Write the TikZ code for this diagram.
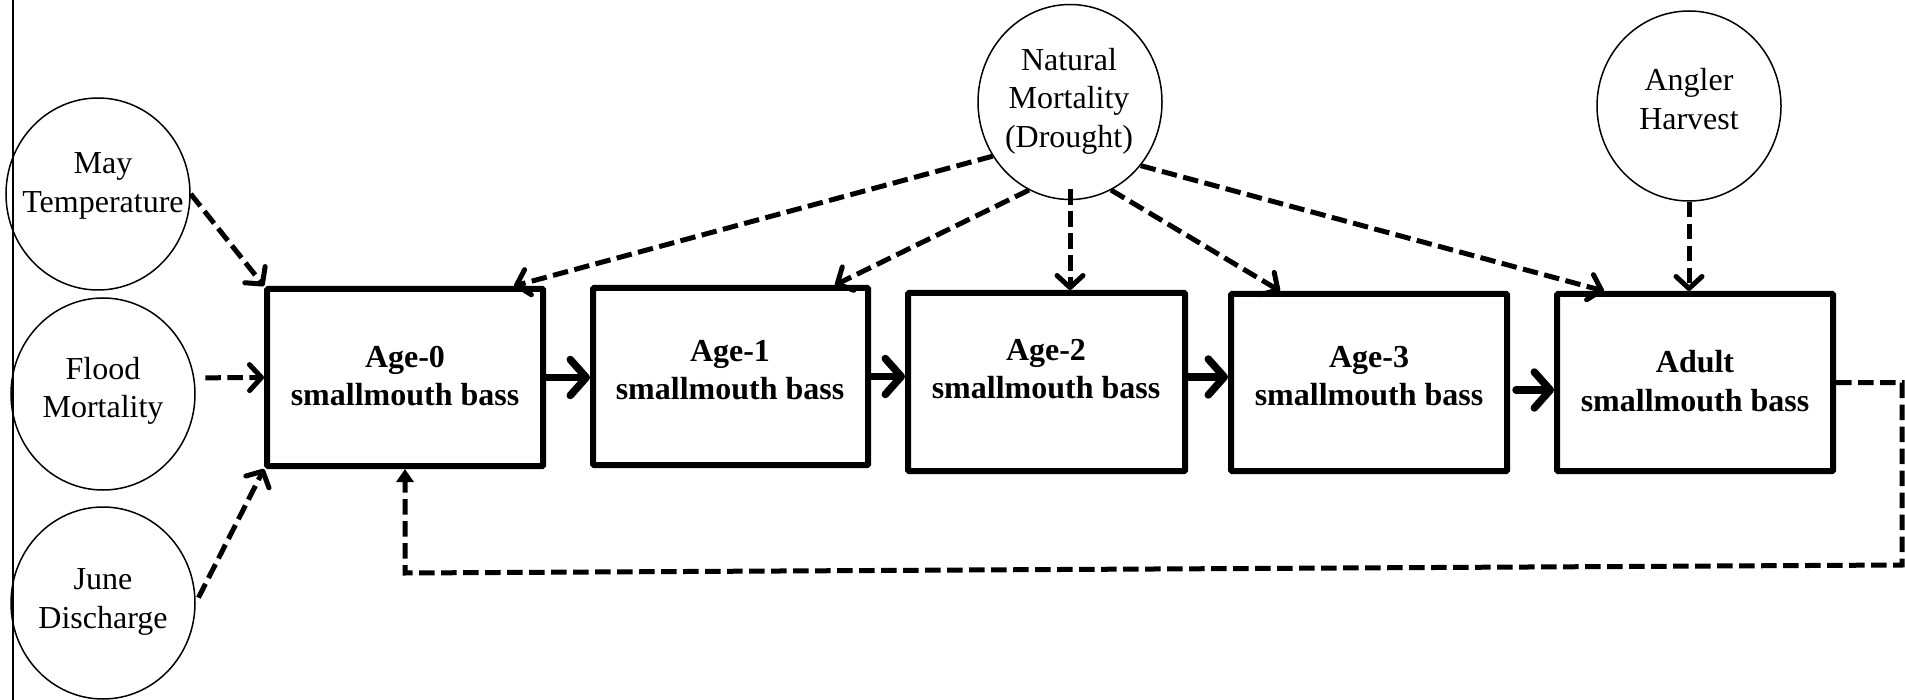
\documentclass[tikz,border=0pt]{standalone}
\usepackage{fontspec}
\setmainfont{Liberation Serif}
\usetikzlibrary{arrows.meta,shapes.geometric,calc}
\begin{document}
\begin{tikzpicture}[x=1pt,y=-1pt,
  oval/.style={draw, ellipse, line width=1.5pt, inner sep=0pt, minimum width=184pt, minimum height=192pt},
  lbl/.style={align=center, inner sep=0pt, font=\fontsize{32}{38.5}\selectfont},
  blbl/.style={align=center, inner sep=0pt, font=\fontsize{32}{38.5}\selectfont\bfseries},
  stagebox/.style={draw, rectangle, line width=6pt, inner sep=0pt, rounded corners=1pt, minimum width=276pt, minimum height=177pt},
  dasharrow/.style={line width=5pt, dash pattern=on 15.5pt off 6.5pt, -{Straight Barb[length=12pt,width=26pt,round]}},
  fbarrow/.style={line width=5pt, dash pattern=on 15.5pt off 6.5pt, -{Triangle[length=13pt,width=17pt]}},
  flow/.style={line width=7.5pt, line cap=round, -{Straight Barb[length=16pt,width=36pt,round]}},
]
\useasboundingbox (0,0) rectangle (1905,700);
\draw[line width=1.5pt] (13,0) -- (13,700);

% ovals
\node[oval] (may) at (98,194) {};
\node[lbl] (mayt) at (103,186) {May\\Temperature};
\node[oval] (flood) at (103,394) {};
\node[lbl] (floodt) at (103,391) {Flood\\Mortality};
\node[oval] (june) at (103,603) {};
\node[lbl] (junet) at (103,602) {June\\Discharge};
\node[oval, minimum height=195pt] (nm) at (1070,102) {};
\node[lbl] (nmt) at (1069,101) {Natural\\Mortality\\(Drought)};
\node[oval, minimum height=190pt] (ang) at (1689,106) {};
\node[lbl] (angt) at (1689,99) {Angler\\Harvest};

% boxes
\node[stagebox] (a0) at (405,377.5) {};
\node[blbl] (a0t) at (405,376) {Age-0\\smallmouth bass};
\node[stagebox, minimum width=275pt] (a1) at (730.5,376.5) {};
\node[blbl] (a1t) at (730,370) {Age-1\\smallmouth bass};
\node[stagebox, minimum width=277pt, minimum height=178pt] (a2) at (1046.5,382) {};
\node[blbl] (a2t) at (1046,369) {Age-2\\smallmouth bass};
\node[stagebox] (a3) at (1369,382.5) {};
\node[blbl] (a3t) at (1369,376) {Age-3\\smallmouth bass};
\node[stagebox] (ad) at (1695,382.5) {};
\node[blbl] (adt) at (1695,381) {Adult\\smallmouth bass};

% environmental inputs
\draw[dasharrow] (may.east) -- (a0.north west);
\draw[dasharrow, shorten <=11pt] (flood.10) -- (a0.west);
\draw[dasharrow, shorten <=6pt] (june.east) -- (a0.south west);

% natural mortality
\coordinate (nmb) at ($(nm.south)+(0,-11)$);
\coordinate (t0) at ($(a0.north east)+(-32,0)$);
\coordinate (t1) at ($(a1.north east)+(-36,0)$);
\coordinate (t3) at ($(a3.north west)+(52,0)$);
\coordinate (tad) at ($(ad.north west)+(50,0)$);
\draw[dasharrow] (nm.215) -- (t0);
\draw[dasharrow] (nm.245) -- (t1);
\draw[dasharrow] (nmb) -- (nmb |- a2.north);
\draw[dasharrow] (nm.295) -- (t3);
\draw[dasharrow] (nm.318) -- (tad);

% angler harvest
\draw[dasharrow] (ang.south) -- (ang.south |- ad.north);

% flow between stages
\coordinate (s2) at ($(a2.east)+(0,-5)$);
\coordinate (s3) at ($(a3.east)+(6,7.5)$);
\draw[flow] (a0.east) -- (a0.east -| a1.west);
\draw[flow] (a1.east) -- (a1.east -| a2.west);
\draw[flow] (s2) -- (s2 -| a3.west);
\draw[flow] (s3) -- (s3 -| ad.west);

% recruitment feedback
\coordinate (fr) at (1902,565);
\coordinate (fl) at (405,573);
\draw[fbarrow] (ad.east) -- (ad.east -| fr) -- (fr) -- (fl) -- (a0.south);
\end{tikzpicture}
\end{document}
